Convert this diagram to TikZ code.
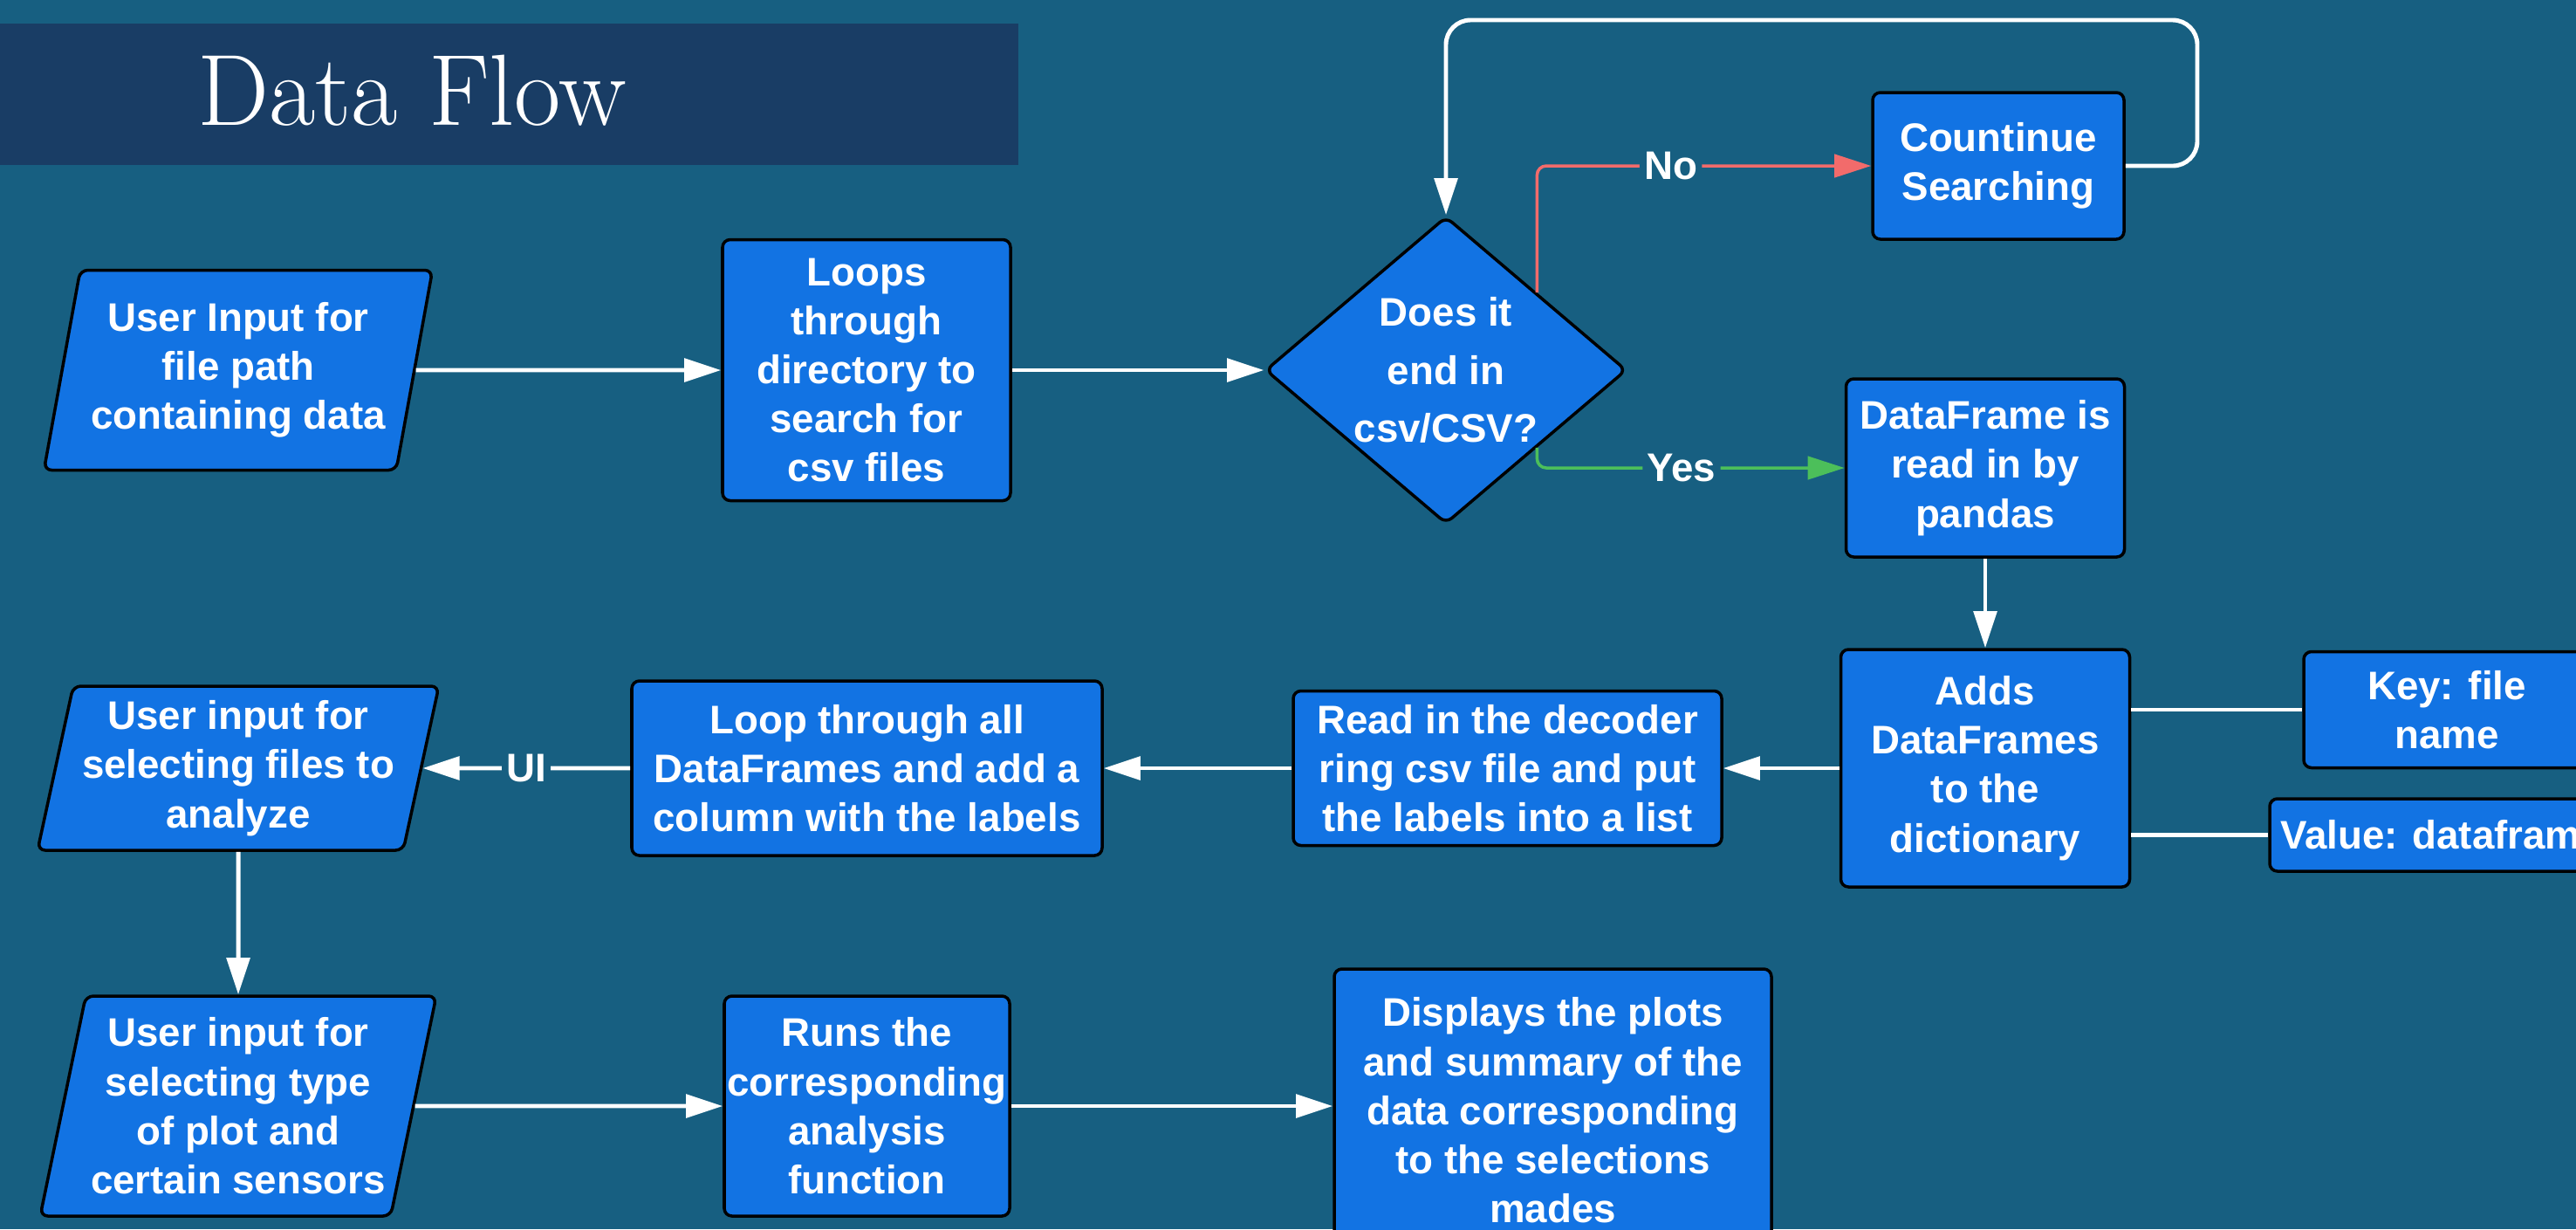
\documentclass[tikz,border=0pt]{standalone}
\usepackage{fontspec}
\newfontfamily\boxfont{Liberation Sans}
\usetikzlibrary{shapes.geometric,arrows.meta}

\definecolor{bgblue}{HTML}{175F81}
\definecolor{titleblue}{HTML}{193D65}
\definecolor{boxblue}{HTML}{1273E3}
\definecolor{nored}{HTML}{F26B6B}
\definecolor{yesgreen}{HTML}{4CBF5A}

\tikzset{
  flowbox/.style={draw=black, line width=1pt, fill=boxblue, rounded corners=2.5pt,
    text=white, align=center, inner sep=0pt,
    font=\boxfont\bfseries\fontsize{13}{16}\selectfont},
  procbox/.style={flowbox, rectangle},
  inbox/.style={flowbox, trapezium, trapezium left angle=76, trapezium right angle=104,
    trapezium stretches=true},
  decbox/.style={flowbox, diamond, aspect=1.18,
    font=\boxfont\bfseries\fontsize{13}{19}\selectfont},
  flow/.style={white, line width=1.4pt, -{Triangle[length=12pt,width=7.5pt]}},
  link/.style={white, line width=1.3pt},
  edgetext/.style={fill=bgblue, text=white, inner sep=1.5pt,
    font=\boxfont\bfseries\fontsize{13}{16}\selectfont},
}

\begin{document}
\begin{tikzpicture}[x=1cm, y=-1cm]

  \useasboundingbox (0,0) rectangle (29.52,14.08);
  \fill[bgblue] (0,0) rectangle (29.52,14.08);

  %%%%%%%%%%%%%%%%%%%%%%%%%%%%%%%%%%%%%%%%%%%%%%%%%%%%%%%%%%%%%%%%%%%%%
  % Titel
  \fill[titleblue] (0,0.27) rectangle (11.67,1.89);
  \node[anchor=base, text=white, font=\fontsize{33}{38}\selectfont] (title) at (4.72,1.43) {Data Flow};

  %%%%%%%%%%%%%%%%%%%%%%%%%%%%%%%%%%%%%%%%%%%%%%%%%%%%%%%%%%%%%%%%%%%%%
  % obere Reihe
  \node[inbox, minimum width=4.46cm, minimum height=2.29cm] (userpath) at (2.73,4.24)
    {User Input for\\file path\\containing data};
  \node[procbox, minimum width=3.30cm, minimum height=2.99cm] (loops) at (9.93,4.24)
    {Loops\\through\\directory to\\search for\\csv files};
  \node[decbox, minimum width=4.14cm, minimum height=3.52cm] (csvcheck) at (16.57,4.24)
    {Does it\\end in\\csv/CSV?};
  \node[procbox, minimum width=2.88cm, minimum height=1.68cm] (searching) at (22.90,1.90)
    {Countinue\\Searching};
  \node[procbox, minimum width=3.19cm, minimum height=2.04cm] (pandas) at (22.75,5.36)
    {DataFrame is\\read in by\\pandas};

  \draw[flow] (userpath) -- (loops);
  \draw[flow] (loops) -- (csvcheck);

  % nein / ja
  \draw[nored, line width=1pt, rounded corners=3pt, -{Triangle[length=12pt,width=7.5pt]}]
    (csvcheck.north east) |- node[edgetext, pos=0.7] {No} (searching.west);
  \draw[yesgreen, line width=1pt, rounded corners=3pt, -{Triangle[length=12pt,width=7.5pt]}]
    (csvcheck.south east) |- node[edgetext, pos=0.735] {Yes} (pandas.west);

  % weitersuchen
  \coordinate (loopcorner) at (25.18,0.23);
  \draw[flow, rounded corners=8pt] (searching.east) -| (loopcorner) -| (csvcheck.north);

  %%%%%%%%%%%%%%%%%%%%%%%%%%%%%%%%%%%%%%%%%%%%%%%%%%%%%%%%%%%%%%%%%%%%%
  % mittlere Reihe
  \node[procbox, minimum width=3.31cm, minimum height=2.72cm] (adddict) at (22.75,8.80)
    {Adds\\DataFrames\\to the\\dictionary};
  \node[procbox, minimum width=3.28cm, minimum height=1.33cm] (keyname) at (28.04,8.13)
    {Key: file\\name};
  \node[procbox, minimum width=3.94cm, minimum height=0.83cm] (valuedf) at (27.98,9.565)
    {Value: dataframe};
  \node[procbox, minimum width=4.91cm, minimum height=1.77cm] (decoder) at (17.275,8.80)
    {Read in the decoder\\ring csv file and put\\the labels into a list};
  \node[procbox, minimum width=5.39cm, minimum height=2.00cm] (addcol) at (9.935,8.80)
    {Loop through all\\DataFrames and add a\\column with the labels};
  \node[inbox, minimum width=4.60cm, minimum height=1.88cm] (selfiles) at (2.73,8.80)
    {User input for\\selecting files to\\analyze};

  \draw[flow] (pandas) -- (adddict);
  \draw[link] (adddict.east |- keyname.west) -- (keyname.west);
  \draw[link] (adddict.east |- valuedf.west) -- (valuedf.west);
  \draw[flow] (adddict) -- (decoder);
  \draw[flow] (decoder) -- (addcol);
  \draw[flow] (addcol) -- node[edgetext] {UI} (selfiles);

  %%%%%%%%%%%%%%%%%%%%%%%%%%%%%%%%%%%%%%%%%%%%%%%%%%%%%%%%%%%%%%%%%%%%%
  % untere Reihe
  \node[inbox, minimum width=4.54cm, minimum height=2.52cm] (selplot) at (2.73,12.67)
    {User input for\\selecting type\\of plot and\\certain sensors};
  \node[procbox, minimum width=3.27cm, minimum height=2.52cm] (runs) at (9.935,12.67)
    {Runs the\\corresponding\\analysis\\function};
  \node[procbox, minimum width=5.01cm, minimum height=3.24cm] (displays) at (17.795,12.72)
    {Displays the plots\\and summary of the\\data corresponding\\to the selections\\mades};

  \draw[flow] (selfiles) -- (selplot);
  \draw[flow] (selplot) -- (runs);
  \draw[flow] (runs.east) -- (runs.east -| displays.west);

\end{tikzpicture}
\end{document}
